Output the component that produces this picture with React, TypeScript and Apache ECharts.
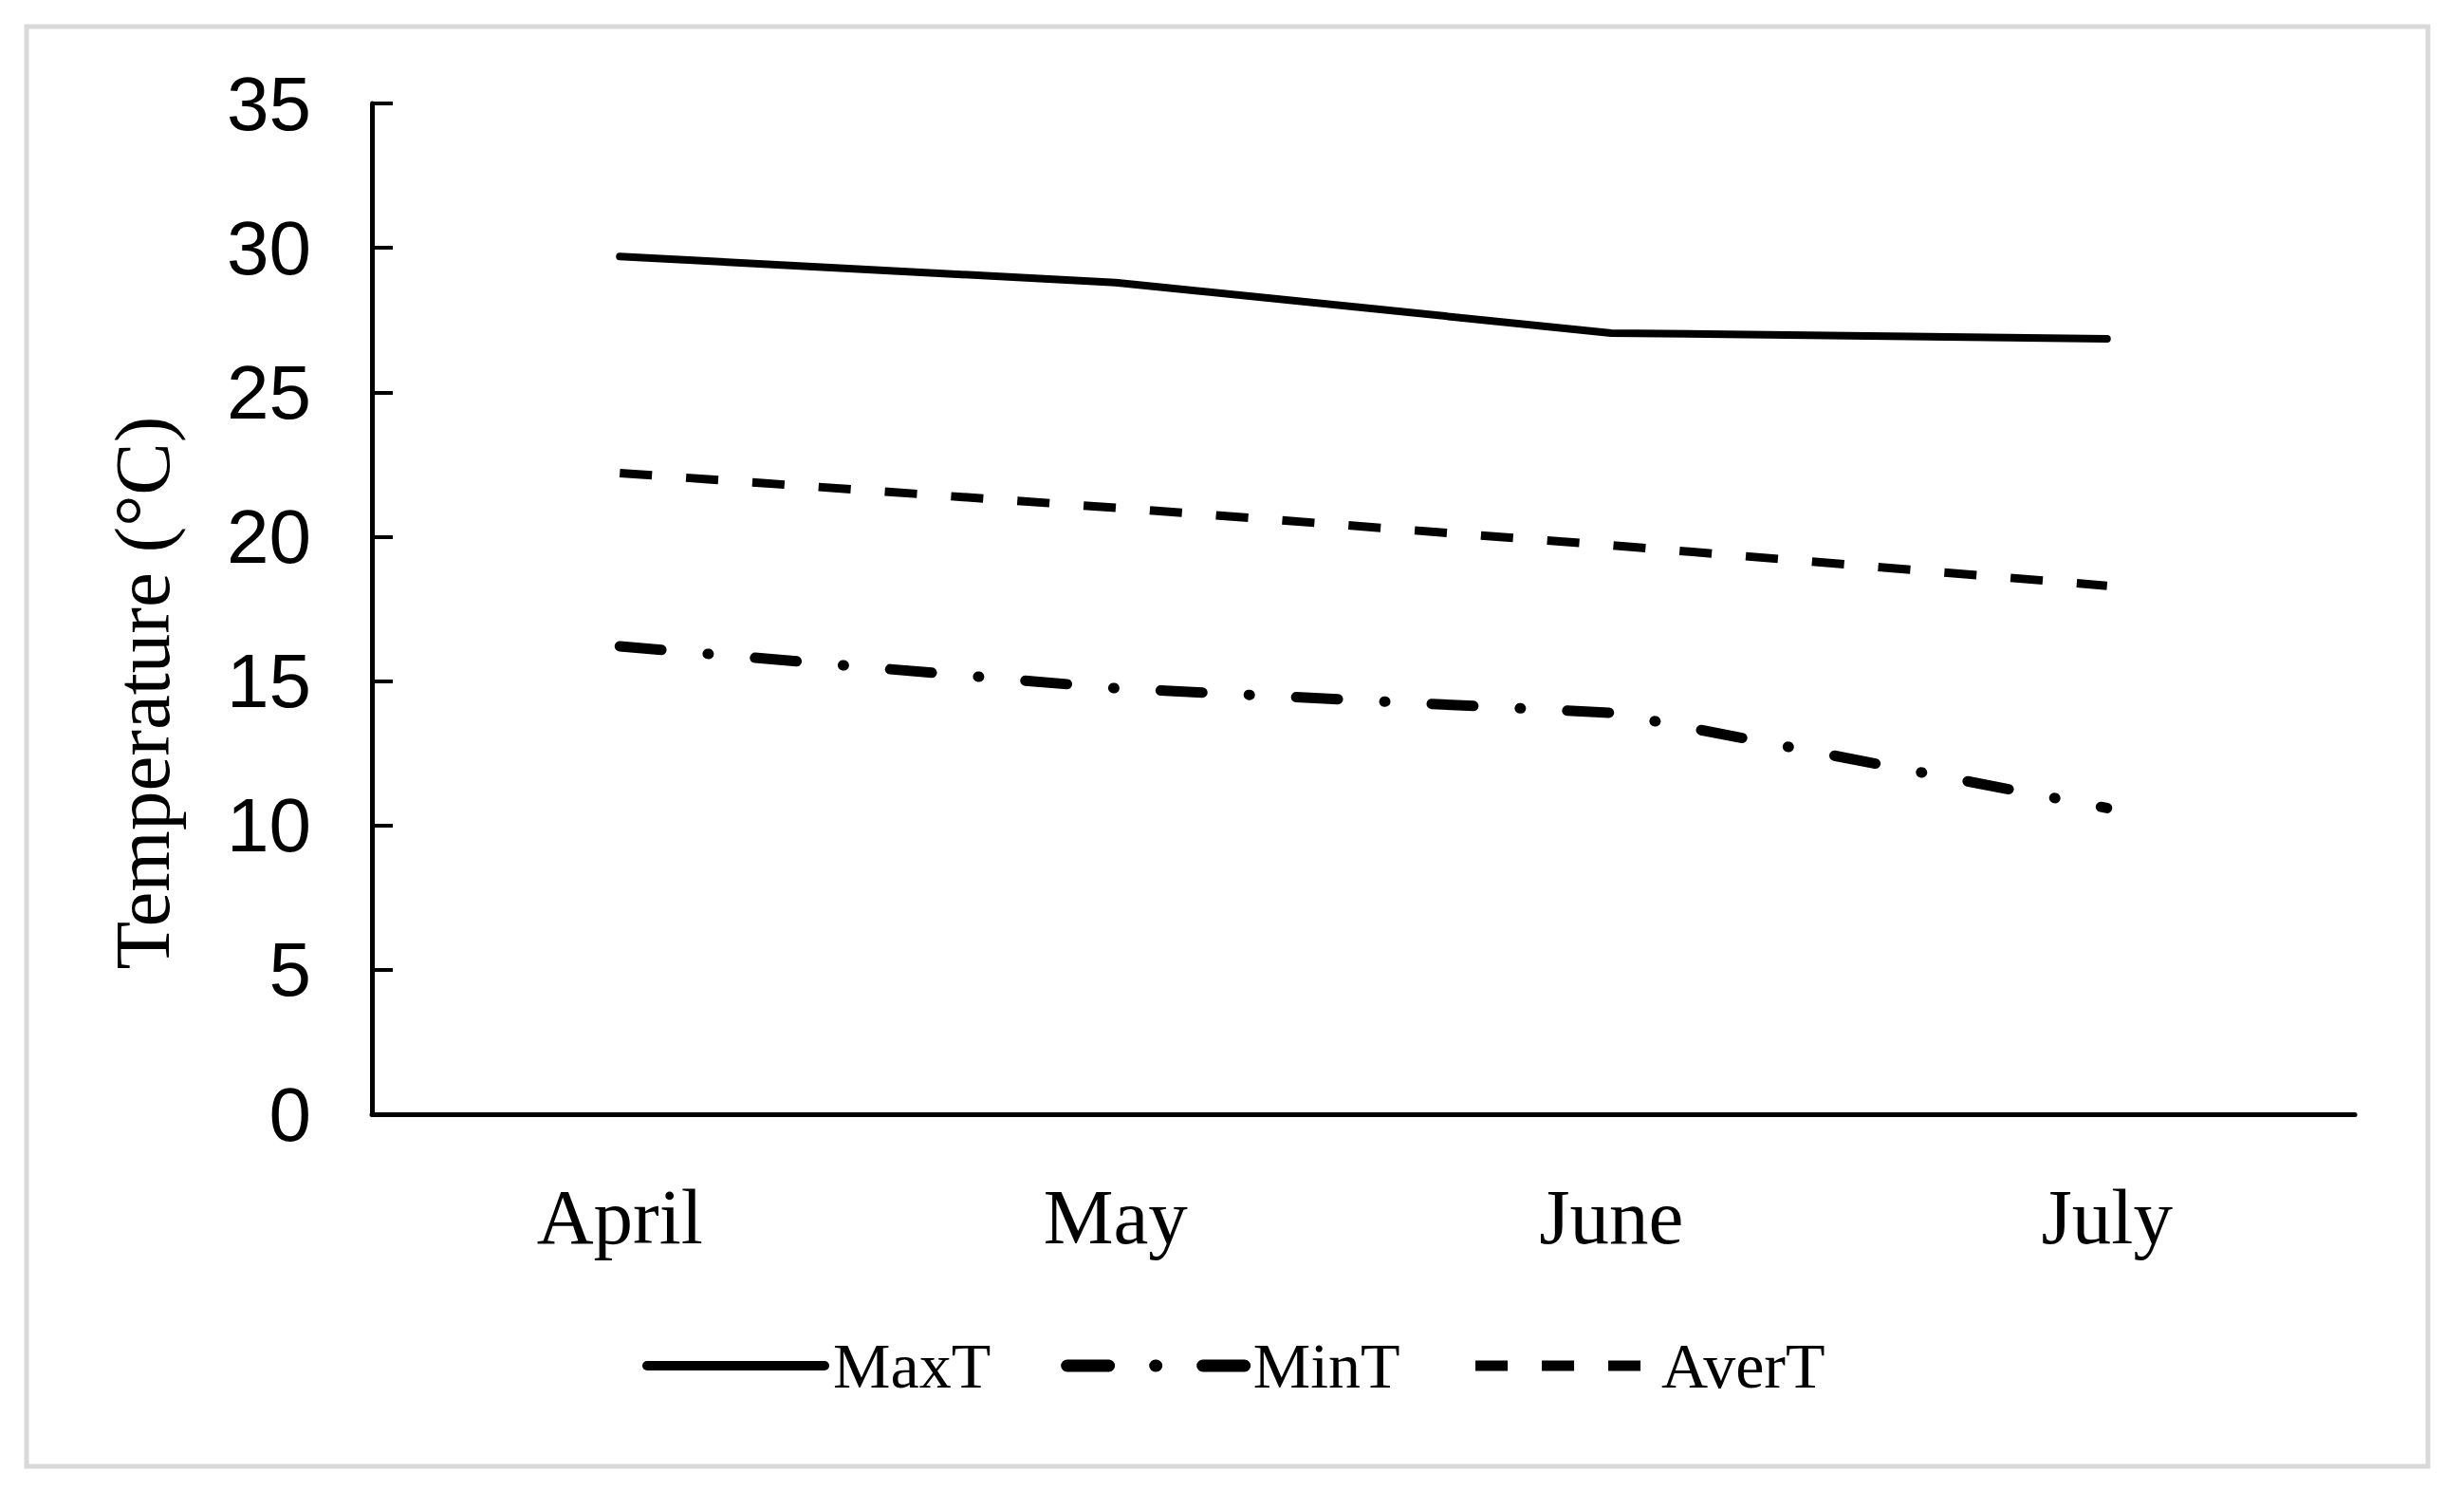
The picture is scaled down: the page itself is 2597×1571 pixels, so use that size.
import React, { useEffect, useRef } from "react";
import * as echarts from "echarts";

const months = ["April", "May", "June", "July"];
const maxT = [29.7, 28.8, 27.05, 26.85];
const minT = [16.2, 14.75, 13.9, 10.6];
const averT = [22.2, 21.0, 19.7, 18.3];
const yTicks = [0, 5, 10, 15, 20, 25, 30, 35];
const yTitle = "Temperature (°C)";

export default function App() {
  const ref = useRef<HTMLDivElement>(null);
  useEffect(() => {
    if (!ref.current) return;
    const chart = echarts.init(ref.current, undefined, { renderer: "svg" });
    chart.setOption({
      animation: false,
      backgroundColor: "#ffffff",
      grid: { left: 392, right: 115, top: 109, bottom: 397, containLabel: false },
      graphic: [
        {
          type: "rect",
          shape: { x: 28, y: 28, width: 2531, height: 1517 },
          style: { fill: "none", stroke: "#d9d9d9", lineWidth: 5 },
          silent: true,
        },
        {
          type: "text",
          x: 150,
          y: 730,
          rotation: Math.PI / 2,
          style: {
            text: yTitle,
            font: '83px "Liberation Serif"',
            fill: "#000",
            align: "center",
            verticalAlign: "middle",
          },
        },
      ],
      legend: {
        left: 672,
        top: 1400,
        itemWidth: 187,
        itemHeight: 1,
        itemGap: 74,
        itemStyle: { color: "rgba(0,0,0,0)", borderWidth: 0, opacity: 0 },
        data: [
          { name: "MaxT", lineStyle: { width: 10, color: "#000" } },
          { name: "MinT", lineStyle: { width: 13, color: "#000" } },
          { name: "AverT", lineStyle: { width: 11, color: "#000" } },
        ],
        textStyle: {
          fontFamily: "Liberation Serif",
          fontSize: 68,
          color: "#000",
          padding: [0, 0, 0, 4],
        },
      },
      xAxis: {
        type: "category",
        data: months,
        boundaryGap: true,
        axisLine: { show: true, lineStyle: { color: "#000", width: 5 } },
        axisTick: { show: false },
        axisLabel: {
          fontFamily: "Liberation Serif",
          fontSize: 83,
          color: "#000",
          margin: 66,
        },
        splitLine: { show: false },
      },
      yAxis: {
        type: "value",
        min: yTicks[0],
        max: yTicks[yTicks.length - 1],
        interval: 5,
        axisLine: { show: true, lineStyle: { color: "#000", width: 5 } },
        axisTick: { show: true, inside: true, length: 22, lineStyle: { color: "#000", width: 4 } },
        axisLabel: {
          fontFamily: "Liberation Sans",
          fontSize: 80,
          color: "#000",
          margin: 64,
        },
        splitLine: { show: false },
      },
      series: [
        {
          name: "MaxT",
          type: "line",
          data: maxT,
          symbol: "none",
          color: "#000",
          lineStyle: { color: "#000", width: 8, cap: "round", join: "round" },
        },
        {
          name: "MinT",
          type: "line",
          data: minT,
          symbol: "none",
          color: "#000",
          lineStyle: { color: "#000", width: 11, type: [44, 49, 1, 49], cap: "round" },
        },
        {
          name: "AverT",
          type: "line",
          data: averT,
          symbol: "none",
          color: "#000",
          lineStyle: { color: "#000", width: 9, type: [34, 36] },
        },
      ],
    });
    return () => chart.dispose();
  }, []);
  return (
    <div
      ref={ref}
      style={{ position: "fixed", left: 0, top: 0, width: 2597, height: 1571, background: "#fff" }}
    />
  );
}
